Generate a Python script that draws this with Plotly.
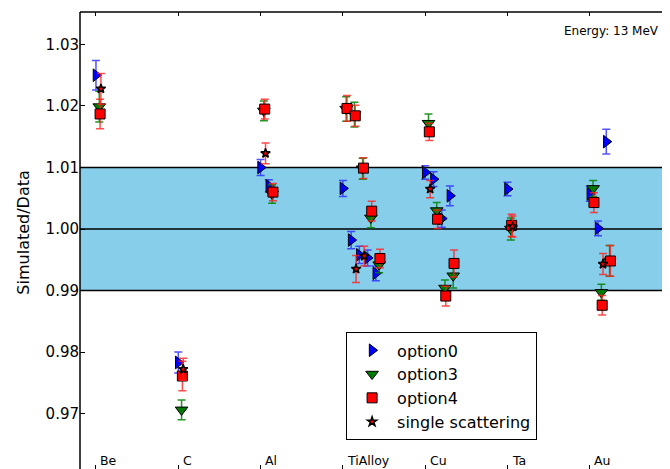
import plotly.graph_objects as go

# ---------------- data ----------------
categories = ["Be", "C", "Al", "TiAlloy", "Cu", "Ta", "Au"]
energy_label = "Energy: 13 MeV"
band_low, band_mid, band_high = 0.99, 1.00, 1.01
y_ticks = [0.97, 0.98, 0.99, 1.00, 1.01, 1.02, 1.03]

# each point: category index, measurement index within category, value, error
opt0_cat = [0, 1, 2, 2, 3, 3, 3, 3, 3, 4, 4, 4, 4, 5, 6, 6, 6]
opt0_m   = [0, 0, 0, 1, 0, 1, 2, 3, 4, 0, 1, 2, 3, 0, 0, 1, 2]
opt0_val = [1.0250, 0.9783, 1.0100, 1.0070, 1.0066, 0.9982, 0.9958, 0.9953, 0.9928,
            1.0092, 1.0081, 1.0017, 1.0054, 1.0065, 1.0057, 1.0001, 1.0142]
opt0_err = [0.0024, 0.0017, 0.0013, 0.0010, 0.0013, 0.0014, 0.0014, 0.0013, 0.0012,
            0.0011, 0.0012, 0.0014, 0.0016, 0.0011, 0.0012, 0.0012, 0.0020]

opt3_cat = [0, 1, 2, 2, 3, 3, 3, 3, 3, 4, 4, 4, 4, 5, 6, 6, 6]
opt3_m   = [0, 0, 0, 1, 0, 1, 2, 3, 4, 0, 1, 2, 3, 0, 0, 1, 2]
opt3_val = [1.0199, 0.9706, 1.0192, 1.0057, 1.0195, 1.0186, 1.0098, 1.0018, 0.9942,
            1.0172, 1.0030, 0.9904, 0.9924, 1.0000, 1.0066, 0.9897, 0.9948]
opt3_err = [0.0025, 0.0016, 0.0016, 0.0015, 0.0020, 0.0020, 0.0017, 0.0016, 0.0013,
            0.0015, 0.0013, 0.0013, 0.0020, 0.0018, 0.0013, 0.0013, 0.0025]

opt4_cat = [0, 1, 2, 2, 3, 3, 3, 3, 3, 4, 4, 4, 4, 5, 6, 6, 6]
opt4_m   = [0, 0, 0, 1, 0, 1, 2, 3, 4, 0, 1, 2, 3, 0, 0, 1, 2]
opt4_val = [1.0187, 0.9761, 1.0195, 1.0060, 1.0196, 1.0184, 1.0099, 1.0029, 0.9952,
            1.0158, 1.0016, 0.9891, 0.9944, 1.0006, 1.0043, 0.9876, 0.9948]
opt4_err = [0.0024, 0.0024, 0.0016, 0.0014, 0.0021, 0.0017, 0.0017, 0.0016, 0.0015,
            0.0014, 0.0015, 0.0016, 0.0022, 0.0018, 0.0016, 0.0016, 0.0025]

ss_cat = [0, 1, 2, 3, 3, 4, 5, 6]
ss_m   = [0, 0, 0, 1, 2, 0, 0, 1]
ss_val = [1.0228, 0.9772, 1.0123, 0.9935, 0.9956, 1.0065, 1.0004, 0.9943]
ss_err = [0.0025, 0.0018, 0.0017, 0.0022, 0.0016, 0.0014, 0.0017, 0.0017]

# ---------------- helpers ----------------
MEAS_STEP = 0.1


def xpos(cats, ms, off):
    return [c + MEAS_STEP * m + off for c, m in zip(cats, ms)]


fig = go.Figure()

series = [
    ("option0", opt0_cat, opt0_m, opt0_val, opt0_err, 0.0, "triangle-right", 11, "#0000ff", 1, "rgba(40,40,255,0.8)"),
    ("option3", opt3_cat, opt3_m, opt3_val, opt3_err, 0.04, "triangle-down", 11, "#007a00", 1, "rgba(0,128,0,0.85)"),
    ("option4", opt4_cat, opt4_m, opt4_val, opt4_err, 0.05, "square", 10, "#ff0000", 1, "rgba(255,30,30,0.8)"),
    ("single scattering", ss_cat, ss_m, ss_val, ss_err, 0.06, "star", 7, "#ff0000", 1.5, "rgba(255,30,30,0.8)"),
]

for name, cats, ms, vals, errs, off, sym, size, col, lw, ecol in series:
    fig.add_trace(go.Scatter(
        x=xpos(cats, ms, off), y=vals, mode="markers", name=name,
        marker=dict(symbol=sym, size=size, color=col, line=dict(color="black", width=lw)),
        error_y=dict(type="data", array=errs, visible=True, color=ecol, thickness=1.5, width=4),
    ))

# band and reference lines
fig.add_shape(type="rect", xref="paper", yref="y", x0=0, x1=1, y0=band_low, y1=band_high,
              fillcolor="#87ceeb", line=dict(width=0), layer="below")
for yv in (band_low, band_mid, band_high):
    fig.add_shape(type="line", xref="paper", yref="y", x0=0, x1=1, y0=yv, y1=yv,
                  line=dict(color="black", width=1.5), layer="below")

# spines (left and top)
fig.add_shape(type="line", xref="paper", yref="paper", x0=0, x1=0, y0=0, y1=1,
              line=dict(color="black", width=1.5))
fig.add_shape(type="line", xref="paper", yref="paper", x0=0, x1=1, y0=1, y1=1,
              line=dict(color="black", width=1.5))

# category labels inside bottom of plot
for i, c in enumerate(categories):
    fig.add_annotation(x=i + 0.03, y=0.9624, xref="x", yref="y", text=c, showarrow=False,
                       xanchor="left", yanchor="middle",
                       font=dict(family="DejaVu Sans", size=12.5, color="black"))

fig.add_annotation(x=0.984, y=0.958, xref="paper", yref="paper", text=energy_label,
                   showarrow=False, xanchor="right", yanchor="middle",
                   font=dict(family="DejaVu Sans", size=12, color="black"))

fig.add_annotation(x=-0.096, y=0.518, xref="paper", yref="paper", text="Simulated/Data",
                   showarrow=False, textangle=-90, xanchor="center", yanchor="middle",
                   font=dict(family="DejaVu Sans", size=16, color="black"))

# page body has an 8px margin: figure starts at (8, 8)
fig.update_layout(
    width=662, height=461,
    margin=dict(l=72, r=0, t=4, b=0),
    paper_bgcolor="white", plot_bgcolor="white",
    font=dict(family="DejaVu Sans", size=15, color="black"),
    showlegend=True,
    legend=dict(x=0.451, y=0.299, xanchor="left", yanchor="top",
                bgcolor="white", bordercolor="black", borderwidth=1,
                font=dict(family="DejaVu Sans", size=16), itemwidth=40,
                tracegroupgap=0),
)
fig.update_xaxes(range=[-0.194, 6.974], tickvals=list(range(len(categories))),
                 showticklabels=False, ticks="inside", ticklen=4, tickcolor="black",
                 mirror="ticks", showline=False, showgrid=False, zeroline=False)
fig.update_yaxes(range=[0.96098, 1.03528], tickvals=y_ticks, tickformat=".2f",
                 ticks="inside", ticklen=5, tickcolor="black", mirror="ticks",
                 showline=False, showgrid=False, zeroline=False,
                 tickfont=dict(family="DejaVu Sans", size=15))

fig.write_html("out.html")
